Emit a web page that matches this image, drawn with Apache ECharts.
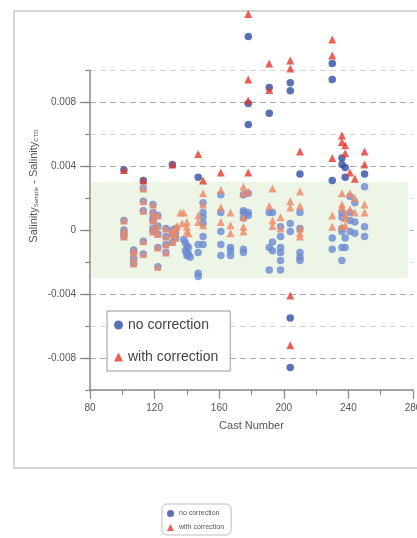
<!DOCTYPE html>
<html>
<head>
<meta charset="utf-8">
<script src="https://cdn.jsdelivr.net/npm/echarts@6/dist/echarts.min.js"></script>
<style>
  html, body { margin: 0; padding: 0; background: #fff; }
  #chart { width: 417px; height: 538px; }
</style>
</head>
<body>
<div id="chart"></div>
<script>
// Casts sampled before the correction was introduced: both runs coincide.
const earlyCasts = [
  [101, 0.00375], [101, 0.0006], [101, 0.0], [101, -0.0002], [101, -0.0004],
  [107, -0.00125], [107, -0.0014], [107, -0.0018], [107, -0.0021],
  [113, 0.0031], [113, 0.0026], [113, 0.0018], [113, 0.0012], [113, -0.0007], [113, -0.0015],
  [119, 0.0016], [119, 0.0011], [119, 0.00075], [119, 0.0006], [119, 0.0001], [119, -0.0001],
  [122, 0.0009], [122, 0.00025], [122, -0.00025], [122, -0.0011], [122, -0.0023],
  [127, 0.0001], [127, -0.0004], [127, -0.0009], [127, -0.0014],
  [131, 0.0041], [131, 0.0], [131, -0.00025], [131, -0.00075],
  [133, 0.0001], [133, -0.0002], [133, -0.0005]
];

// Salinity difference (bottle sample minus CTD), uncorrected CTD
const noCorrection = [
  [138, -0.0006], [139, -0.0008], [140, -0.0010], [141, -0.0011], [139, -0.0013],
  [140, -0.0014], [141, -0.0015], [140, -0.0016], [142, -0.0017],
  [147, 0.0033], [147, -0.0009], [147, -0.0014], [147, -0.0027], [147, -0.0029],
  [150, 0.0017], [150, 0.0011], [150, 0.0008], [150, 0.0004], [150, -0.0004], [150, -0.0009],
  [161, 0.0022], [161, 0.0011], [161, -0.0001], [161, -0.0009], [161, -0.0016],
  [167, -0.0011], [167, -0.0013], [167, -0.0016],
  [175, 0.0022], [175, 0.0012], [175, 0.0011], [175, 0.00075], [175, -0.0012], [175, -0.0014],
  [178, 0.0121], [178, 0.0079], [178, 0.0066], [178, 0.0023], [178, 0.0011], [178, 0.0009],
  [191, 0.0089], [191, 0.0073], [191, 0.0011], [191, -0.0011], [191, -0.0025],
  [193, 0.0011], [193, -0.00075], [193, -0.0013],
  [198, 0.0002], [198, -0.0004], [198, -0.0011], [198, -0.0014], [198, -0.0019], [198, -0.0025],
  [204, 0.0092], [204, 0.0087], [204, 0.0004], [204, -0.0001], [204, -0.0055], [204, -0.0086],
  [210, 0.0035], [210, 0.0011], [210, 0.0001], [210, -0.0014], [210, -0.0017], [210, -0.0019],
  [230, 0.0104], [230, 0.0094], [230, 0.0031], [230, -0.0005], [230, -0.0012],
  [236, 0.0045], [236, 0.0041], [236, 0.0011], [236, 0.0008], [236, 0.0001], [236, -0.0001], [236, -0.0011], [236, -0.0019],
  [238, 0.0039], [238, 0.0033], [238, -0.0005], [238, -0.0011],
  [241, 0.0021], [241, 0.0011], [241, 0.0006], [241, -0.0001],
  [244, 0.0017], [244, 0.0005], [244, -0.0002],
  [250, 0.0035], [250, 0.0027], [250, 0.0002], [250, -0.0004]
];

// Salinity difference after the CTD correction
const withCorrection = [
  [134, 0.00025], [136, 0.0011], [138, 0.0011], [137, 0.0004], [140, 0.0005],
  [140, 0.0002], [140, -0.0001], [141, -0.0002],
  [147, 0.00475], [147, 0.0009], [147, 0.0005],
  [150, 0.0031], [150, 0.0023], [150, 0.0016], [150, 0.0003],
  [161, 0.0036], [161, 0.0025], [161, 0.0014], [161, 0.0005],
  [167, 0.0011], [167, 0.0003], [167, -0.0002],
  [175, 0.0027], [175, 0.0023], [175, 0.0008], [175, 0.0002], [175, -0.0001],
  [178, 0.0135], [178, 0.0094], [178, 0.0081], [178, 0.0036], [178, 0.0024],
  [191, 0.0104], [191, 0.00875], [191, 0.0015],
  [193, 0.0026], [193, 0.0006], [193, 0.00025],
  [198, 0.0008], [198, 0.0001],
  [204, 0.0106], [204, 0.0101], [204, 0.0018], [204, 0.0014], [204, -0.0041], [204, -0.0072],
  [210, 0.0049], [210, 0.0024], [210, 0.0015], [210, 0.0001], [210, -0.0002], [210, -0.0004],
  [230, 0.0119], [230, 0.0109], [230, 0.0045], [230, 0.0009], [230, 0.0002],
  [236, 0.0059], [236, 0.0055], [236, 0.0023], [236, 0.0016], [236, 0.0014], [236, 0.0002],
  [238, 0.0053], [238, 0.0048], [238, 0.001], [238, 0.00075], [238, 0.0003],
  [241, 0.0036], [241, 0.0023], [241, 0.0013],
  [244, 0.0032], [244, 0.002], [244, 0.0011],
  [250, 0.0049], [250, 0.0041], [250, 0.0016], [250, 0.0011]
];

// Axis tick labels
const xTickLabels = [80, 120, 160, 200, 240, 280];
const yTickLabels = [-0.008, -0.004, 0, 0.004, 0.008];

// Acceptance band (+/- 0.003) and the cast span it covers
const bandLimit = 0.003;
const bandCasts = [81, 277];

const BLUE = '#2f4fa2', BLUE_LIGHT = '#6a8bd2';
const RED = '#e6372c', RED_LIGHT = '#ef8767';
const FONT = '"Liberation Sans", Arial, sans-serif';

function styled(points, dark, light) {
  return points.map(p => ({
    value: p,
    itemStyle: { color: Math.abs(p[1]) <= bandLimit ? light : dark }
  }));
}

const isTick = (v, list) => list.some(t => Math.abs(t - v) < 1e-9);

const chart = echarts.init(document.getElementById('chart'), null, { renderer: 'canvas' });

chart.setOption({
  animation: false,
  backgroundColor: '#ffffff',
  textStyle: { fontFamily: FONT },
  grid: { left: 90, right: 4, top: 70, bottom: 148, containLabel: false, outerBoundsMode: 'none' },
  xAxis: [{
    type: 'value', min: 80, max: 280, interval: 40,
    name: 'Cast Number', nameLocation: 'middle', nameGap: 30,
    nameTextStyle: { fontSize: 11, color: '#555', fontFamily: FONT },
    axisLine: { show: true, onZero: false, lineStyle: { color: '#8a8a8a', width: 1.5 } },
    axisTick: { show: true, inside: false, length: 9, lineStyle: { color: '#8a8a8a', width: 1.3 } },
    minorTick: { show: true, splitNumber: 2, length: 5, lineStyle: { color: '#8a8a8a', width: 1.2 } },
    axisLabel: { fontSize: 10, color: '#555', margin: 13, fontFamily: FONT, hideOverlap: false,
      formatter: v => isTick(v, xTickLabels) ? String(v) : '' },
    splitLine: { show: false }
  }],
  yAxis: [{
    type: 'value', min: -0.010, max: 0.010, interval: 0.002,
    axisLine: { show: true, onZero: false, lineStyle: { color: '#8a8a8a', width: 1.5 } },
    axisTick: { show: true, length: 5, lineStyle: { color: '#8a8a8a', width: 1.2 } },
    axisLabel: { show: false },
    splitLine: { show: true, lineStyle: { color: ['#d6d6d6', '#ababab'], type: [6, 4], width: 1.2 } }
  }, {
    type: 'value', min: -0.010, max: 0.010, position: 'left', offset: 0,
    axisLine: { show: false },
    axisTick: { show: true, length: 10, customValues: yTickLabels, lineStyle: { color: '#8a8a8a', width: 1.3 } },
    axisLabel: { show: true, customValues: yTickLabels, fontSize: 10, color: '#555', margin: 14, fontFamily: FONT,
      formatter: v => isTick(v, yTickLabels) ? (v === 0 ? '0' : v.toFixed(3)) : '' },
    splitLine: { show: false }
  }],
  legend: [{
    orient: 'vertical', left: 107, top: 311,
    padding: [7, 12, 7, 7], itemGap: 18, itemWidth: 9, itemHeight: 9, itemTextGap: 7,
    borderColor: '#9a9a9a', borderWidth: 1, backgroundColor: '#ffffff',
    textStyle: { fontSize: 14, color: '#444', fontFamily: FONT },
    data: [
      { name: 'no correction', icon: 'circle', itemStyle: { color: BLUE } },
      { name: 'with correction', icon: 'triangle', itemStyle: { color: RED } }
    ]
  }, {
    orient: 'vertical', left: 162, top: 504,
    padding: [6, 7, 4, 5], itemGap: 7, itemWidth: 7, itemHeight: 7, itemTextGap: 2,
    borderColor: '#bdbdbd', borderWidth: 1, borderRadius: 5, backgroundColor: '#ffffff',
    textStyle: { fontSize: 7, color: '#555', fontFamily: FONT },
    data: [
      { name: 'no correction', icon: 'circle', itemStyle: { color: BLUE } },
      { name: 'with correction', icon: 'triangle', itemStyle: { color: RED } }
    ]
  }],
  series: [{
    name: 'no correction', type: 'scatter', clip: false,
    symbol: 'circle', symbolSize: 7.5,
    itemStyle: { color: BLUE },
    data: styled(earlyCasts.concat(noCorrection), BLUE, BLUE_LIGHT),
    markArea: {
      silent: true,
      itemStyle: { color: '#edf5e6' },
      data: [[{ coord: [bandCasts[0], -bandLimit] }, { coord: [bandCasts[1], bandLimit] }]]
    },
    z: 2
  }, {
    name: 'with correction', type: 'scatter', clip: false,
    symbol: 'triangle', symbolSize: 8,
    itemStyle: { color: RED },
    data: styled(earlyCasts.concat(withCorrection), RED, RED_LIGHT),
    z: 3
  }],
  graphic: [{
    type: 'rect', silent: true, z: -1,
    shape: { x: 14, y: 11, width: 420, height: 457 },
    style: { fill: 'none', stroke: '#c8c8c8', lineWidth: 1.5 }
  }, {
    type: 'text', silent: true,
    x: 33, y: 186, rotation: Math.PI / 2,
    style: {
      text: '{m|Salinity}{s|Sample}{m| - Salinity}{s|CTD}',
      align: 'center', verticalAlign: 'middle',
      fill: '#555', font: '11px ' + FONT,
      rich: {
        m: { fontSize: 11, fill: '#555', fontFamily: FONT, lineHeight: 13, verticalAlign: 'bottom' },
        s: { fontSize: 6, fill: '#555', fontFamily: FONT, lineHeight: 6, verticalAlign: 'bottom' }
      }
    }
  }]
});
</script>
</body>
</html>
